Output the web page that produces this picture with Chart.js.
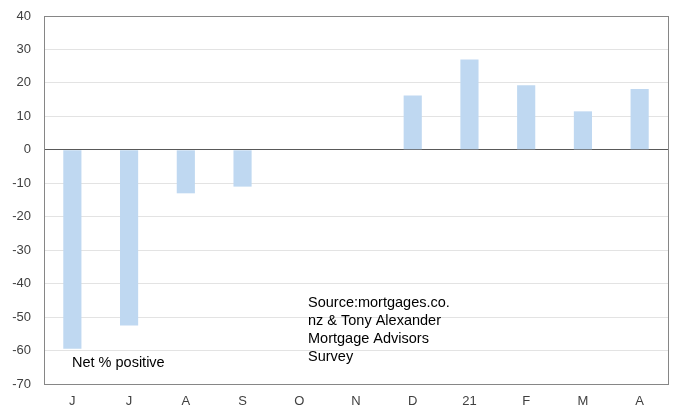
<!DOCTYPE html>
<html>
<head>
<meta charset="utf-8">
<script src="https://cdn.jsdelivr.net/npm/chart.js@4/dist/chart.umd.min.js"></script>
<style>
  html, body { margin: 0; padding: 0; background: #fff; }
  #wrap { width: 675px; height: 408px; }
</style>
</head>
<body>
<div id="wrap"><canvas id="chart"></canvas></div>
<script>
const months = ["J", "J", "A", "S", "O", "N", "D", "21", "F", "M", "A"];
const netPositive = [-59.5, -52.5, -13, -11, 0, 0, 16.2, 27, 19.3, 11.5, 18.2];
const sourceLines = ["Source:mortgages.co.", "nz & Tony Alexander", "Mortgage Advisors", "Survey"];
const seriesNote = "Net % positive";

const txtColor = "#404040";
const font = { family: "Arial, 'Liberation Sans', sans-serif", size: 13 };

// frame round the plot area plus the two text notes
const framePlugin = {
  id: "frame",
  afterDraw(chart) {
    const ctx = chart.ctx;
    const a = chart.chartArea;
    ctx.save();
    ctx.strokeStyle = "#868686";
    ctx.lineWidth = 1;
    ctx.strokeRect(Math.round(a.left) + 0.5, Math.round(a.top) + 0.5,
      Math.round(a.right - a.left), Math.round(a.bottom - a.top));
    ctx.fillStyle = "#000";
    ctx.font = "14.5px Arial, 'Liberation Sans', sans-serif";
    ctx.textBaseline = "middle";
    ctx.textAlign = "left";
    ctx.fillText(seriesNote, a.left + 28, 363);
    sourceLines.forEach((t, i) => ctx.fillText(t, a.left + 264, 303 + i * 18));
    ctx.restore();
  }
};

new Chart(document.getElementById("chart"), {
  type: "bar",
  data: {
    labels: months,
    datasets: [
      {
        label: seriesNote,
        data: netPositive,
        backgroundColor: "#bfd8f1",
        borderWidth: 0,
        barPercentage: 0.32,
        categoryPercentage: 1
      }
    ]
  },
  options: {
    responsive: true,
    maintainAspectRatio: false,
    animation: false,
    layout: { padding: { top: 16, right: 7, left: 0, bottom: 0 } },
    plugins: {
      legend: { display: false },
      tooltip: { enabled: false }
    },
    scales: {
      x: {
        grid: { display: false, drawTicks: false },
        border: { display: false },
        ticks: { color: txtColor, font: font, padding: 10, maxRotation: 0, autoSkip: false },
        afterFit: (s) => { s.height = 24; }
      },
      y: {
        min: -70,
        max: 40,
        ticks: { stepSize: 10, color: txtColor, font: font, padding: 13 },
        grid: {
          drawTicks: false,
          color: (c) => (c.tick && c.tick.value === 0 ? "#595959" : "#e3e3e3"),
          lineWidth: 1
        },
        border: { display: false },
        afterFit: (s) => { s.width = 44; s.paddingTop = 0; s.paddingBottom = 0; }
      }
    }
  },
  plugins: [framePlugin]
});
</script>
</body>
</html>
